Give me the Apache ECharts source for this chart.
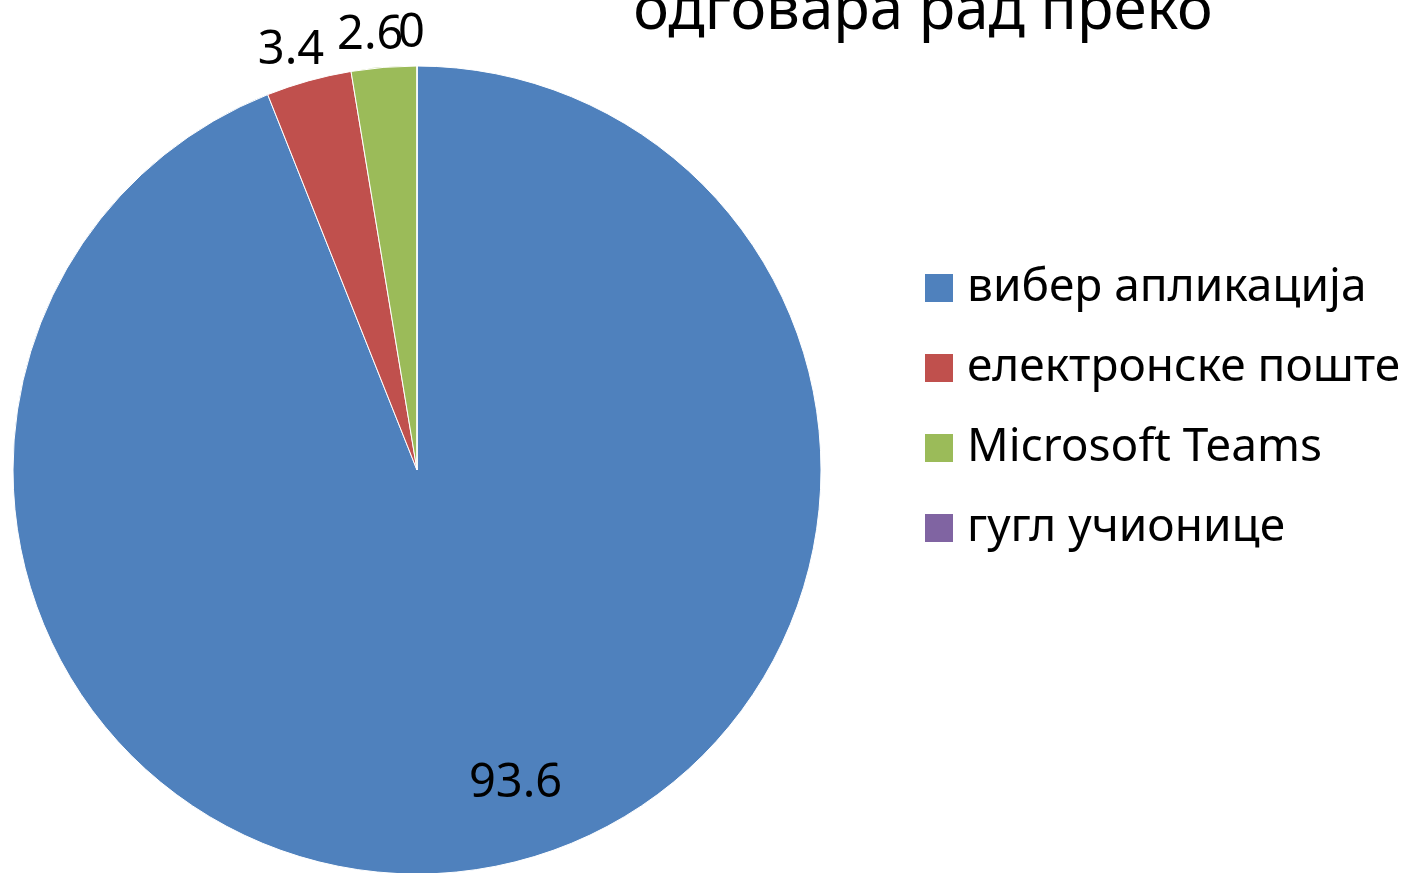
<!DOCTYPE html>
<html>
<head>
<meta charset="utf-8">
<script src="https://cdn.jsdelivr.net/npm/echarts@6/dist/echarts.min.js"></script>
<style>
html, body { margin: 0; padding: 0; background: #fff; }
#chart { width: 1410px; height: 873px; }
</style>
</head>
<body>
<div id="chart"></div>
<script>
// Data
var categories = ['вибер апликација', 'електронске поште', 'Microsoft Teams', 'гугл учионице'];
var values = [93.6, 3.4, 2.6, 0];
var colors = ['#4F81BD', '#C0504D', '#9BBB59', '#8064A2'];
var titleText = 'одговара рад преко';

// Label placement tweaks per slice
var labelOffsets = [[60, 112], [22, -24], [25, -26], [13, -26]];

var chartElement = document.getElementById('chart');
var chart = echarts.init(chartElement);

var seriesData = values.map(function(v, i) {
    var item = { value: v, name: categories[i] };
    if (i === 0) {
        item.label = { position: 'inside', offset: labelOffsets[i] };
    } else {
        item.label = { position: 'outside', offset: labelOffsets[i] };
        item.labelLine = { show: false, length: 6, length2: 0 };
    }
    return item;
});

chart.setOption({
    color: colors,
    textStyle: {
        fontFamily: '"Noto Sans", sans-serif'
    },
    title: {
        text: titleText,
        left: 918,
        top: -23,
        textAlign: 'center',
        textStyle: {
            fontSize: 60,
            fontWeight: 'normal',
            color: '#000',
            fontFamily: '"Noto Sans", sans-serif'
        }
    },
    legend: {
        orient: 'vertical',
        left: 923,
        top: 265,
        padding: 0,
        itemWidth: 30,
        itemHeight: 30,
        itemGap: 34,
        icon: 'rect',
        data: categories,
        textStyle: {
            fontSize: 46,
            color: '#000',
            padding: [0, 0, 0, 8],
            fontFamily: '"Noto Sans", sans-serif'
        }
    },
    series: [{
        type: 'pie',
        center: [417, 470],
        radius: 404,
        startAngle: 90,
        clockwise: true,
        avoidLabelOverlap: false,
        animation: false,
        labelLayout: { hideOverlap: false },
        itemStyle: {
            borderColor: '#fff',
            borderWidth: 1
        },
        label: {
            formatter: '{c}',
            fontSize: 47,
            color: '#000',
            fontFamily: '"Noto Sans", sans-serif'
        },
        data: seriesData
    }]
});
</script>
</body>
</html>
